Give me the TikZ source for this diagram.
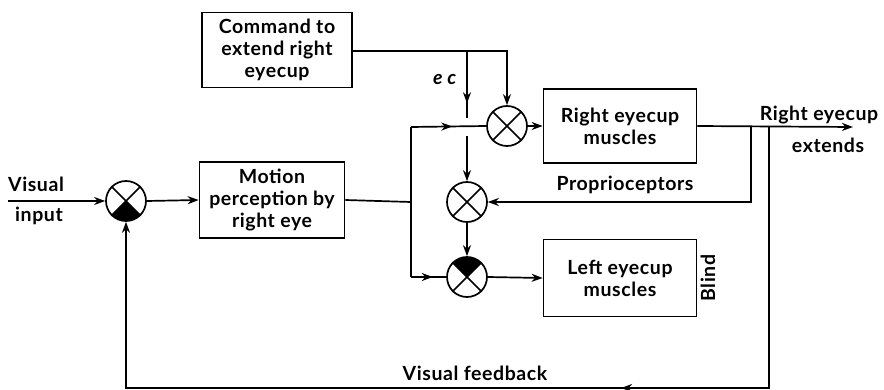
\documentclass[tikz,border=0pt]{standalone}
\usepackage{fontspec}
\setmainfont{Lato}[LetterSpace=3]
\usetikzlibrary{arrows.meta,decorations.markings}
\begin{document}
\begin{tikzpicture}[x=1pt,y=-1pt,line width=1.7pt,
  every node/.style={font=\fontsize{19.5}{22}\selectfont\bfseries},
  blk/.style={draw,rectangle,align=center,inner sep=0pt},
  sumj/.style={draw,circle,minimum size=40pt,inner sep=0pt},
  tip/.style={-{Stealth[length=11pt,width=8pt,inset=3.5pt]}},
  midarr/.style={decoration={markings,mark=at position #1 with {\arrow{Stealth[length=11pt,width=8pt,inset=3.5pt]}}},postaction={decorate}},
  lbl/.style={inner sep=0pt}]
\useasboundingbox (0,0) rectangle (884,390);

% blocks
\node[blk,minimum width=150pt,minimum height=75pt] (cmd) at (277,50) {Command to\\extend right\\eyecup};
\node[blk,minimum width=145pt,minimum height=76pt] (mot) at (272,200) {Motion\\perception by\\right eye};
\node[blk,minimum width=153pt,minimum height=74pt] (rem) at (620,126) {Right eyecup\\muscles};
\node[blk,minimum width=153pt,minimum height=77pt] (lem) at (620,278) {Left eyecup\\muscles};

% junctions
\node[sumj] (c1) at (126,201) {};
\node[sumj] (c2) at (507,126) {};
\node[sumj] (c3) at (467,202) {};
\node[sumj] (c4) at (467,277) {};
\foreach \c in {c1,c2,c3,c4}{
  \draw (\c.45) -- (\c.225);
  \draw (\c.135) -- (\c.315);
}
\begin{scope}
  \clip (c1.center) circle[radius=20pt];
  \fill (c1.center) -- ++(-30pt,-30pt) -- ++(60pt,0pt) -- cycle;
\end{scope}
\begin{scope}
  \clip (c4.center) circle[radius=20pt];
  \fill (c4.center) -- ++(-30pt,30pt) -- ++(60pt,0pt) -- cycle;
\end{scope}

% coordinates
\coordinate (vin) at (8,201);
\coordinate (bt) at (411,127);
\coordinate (bm) at (411,202);
\coordinate (bb) at (411,277);
\coordinate (cr) at (507,51);
\coordinate (ec) at (467,51);
\coordinate (ecg1) at (467,118);
\coordinate (ecg2) at (467,136);
\coordinate (out) at (853,127);
\coordinate (pt) at (751,127);
\coordinate (pb) at (751,202);
\coordinate (ft) at (769,127);
\coordinate (fb) at (769,388);
\coordinate (fl) at (126,388);

% connectors
\draw[tip] (vin) -- (c1.west);
\draw[tip] (c1.east) -- (mot.west);
\draw (mot.east) -- (bm);
\draw (bt) -- (bb);
\draw[midarr=0.55] (bt) -- (c2.west);
\draw[midarr=0.62] (bb) -- (c4.west);
\draw[tip] (cmd.east |- cr) -- (cr) -- (c2.north);
\draw[midarr=0.78] (ec) -- (ecg1);
\draw[tip] (ecg2) -- (c3.north);
\draw[tip] (c3.south) -- (c4.north);
\draw[tip] (c2.east) -- (rem.west);
\draw[tip] (c4.east) -- (lem.west);
\draw[tip] (rem.east) -- (out);
\draw[tip] (pt) -- (pb) -- (c3.east);
\draw[tip] (ft) -- (fb) -- (fl) -- (c1.south);
\draw[midarr=0.23] (fb) -- (fl);

% labels
\node[lbl] (lvis) at (36,184) {Visual};
\node[lbl] (linp) at (39,216) {input};
\node[lbl] (lec) at (445,80) {\textit{e c}};
\node[lbl] (lre) at (819,115) {Right eyecup};
\node[lbl] (lext) at (828,145) {extends};
\node[lbl] (lpro) at (625,185) {Proprioceptors};
\node[lbl,rotate=90] (lbl1) at (708,278) {Blind};
\node[lbl] (lvf) at (475,373) {Visual feedback};
\end{tikzpicture}
\end{document}
